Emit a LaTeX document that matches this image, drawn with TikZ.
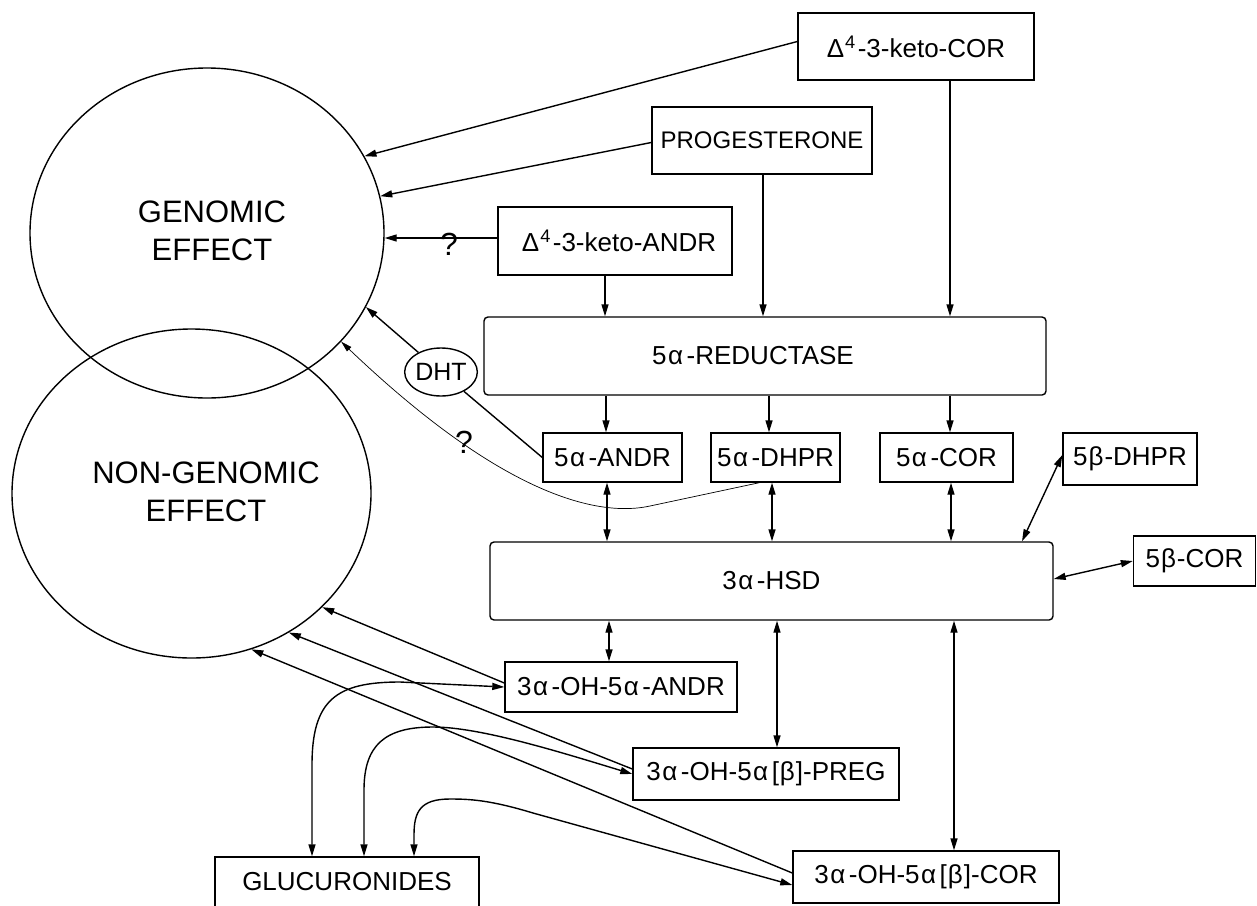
\documentclass[tikz,border=0pt]{standalone}
\usepackage{fontspec}
\setmainfont{Liberation Sans}
\usetikzlibrary{shapes.geometric,arrows.meta,calc}
\newcommand{\myal}{\kern1.5pt α\kern3.5pt}
\newcommand{\mybe}{\kern1pt β\kern1pt}
\newcommand{\myde}{Δ\kern1pt\textsuperscript{4}\kern2pt}
\begin{document}
\begin{tikzpicture}[x=1pt,y=-1pt,
  ln/.style={line width=1.4pt},
  arr/.style={ln,-{Triangle[length=12pt,width=7pt]}},
  darr/.style={ln,{Triangle[length=12pt,width=7pt]}-{Triangle[length=12pt,width=7pt]}},
  thinarr/.style={line width=0.7pt,-{Triangle[length=11pt,width=6pt]}},
  box/.style={draw,ln,inner sep=0pt,font=\fontsize{26}{30}\selectfont},
  rbox/.style={box,rounded corners=4pt},
  oval/.style={draw,ln,ellipse,inner sep=0pt},
  big/.style={font=\fontsize{31}{38}\selectfont,align=center,inner sep=0pt},
  qm/.style={font=\fontsize{32}{36}\selectfont,inner sep=0pt}
]
\useasboundingbox (0,0) rectangle (1257,905);

% effect ellipses
\node[oval,minimum width=354pt,minimum height=330pt] (gen) at (207,233) {};
\node[big] (genT) at (212,231) {GENOMIC\\EFFECT};
\node[oval,minimum width=359pt,minimum height=329pt] (ngen) at (191.5,493.5) {};
\node[big] (ngenT) at (206,492) {NON-GENOMIC\\EFFECT};

% boxes
\node[box,minimum width=236pt,minimum height=67pt] (kcor) at (916,46.5) {\myde-3-keto-COR};
\node[box,minimum width=220pt,minimum height=67pt,font=\fontsize{24}{28}\selectfont] (prog) at (762,140.5) {PROGESTERONE};
\node[box,minimum width=234pt,minimum height=68pt] (kandr) at (615,241) {\hspace*{8pt}\myde-3-keto-ANDR};
\node[rbox,minimum width=562pt,minimum height=78pt] (red) at (765,356) {5\myal-REDUCTASE\hspace*{24pt}};
\node[box,minimum width=139pt,minimum height=49pt] (andr5) at (612.5,457.5) {5\myal-ANDR};
\node[box,minimum width=129pt,minimum height=49pt] (dhpr5) at (775.5,457.5) {5\myal-DHPR};
\node[box,minimum width=133pt,minimum height=49pt] (cor5) at (946.5,457.5) {5\myal-COR};
\node[box,minimum width=134pt,minimum height=52pt] (dhpr5b) at (1130,459) {5\mybe-DHPR};
\node[rbox,minimum width=563pt,minimum height=78pt] (hsd) at (771.5,581) {3\myal-HSD};
\node[box,minimum width=122pt,minimum height=50pt] (cor5b) at (1194.5,561) {5\mybe-COR};
\node[box,minimum width=232pt,minimum height=50pt] (oandr) at (621,687) {3\myal-OH-5\myal-ANDR};
\node[box,minimum width=266pt,minimum height=52pt] (opreg) at (766,774) {3\myal-OH-5\myal[\mybe]-PREG};
\node[box,minimum width=266pt,minimum height=52pt] (ocor) at (926,877) {3\myal-OH-5\myal[\mybe]-COR};
\node[box,minimum width=264pt,minimum height=50pt] (gluc) at (347,882) {GLUCURONIDES};
\node[oval,minimum width=72pt,minimum height=48pt,font=\fontsize{25}{30}\selectfont] (dht) at (441,372) {DHT};
\node[qm] (q1) at (449,244) {?};
\node[qm] (q2) at (464,442) {?};

% helper x positions
\coordinate (x605) at (605,0);
\coordinate (x763) at (763,0);
\coordinate (x950) at (950,0);
\coordinate (x606) at (606,0);
\coordinate (x769) at (769,0);
\coordinate (x607) at (607,0);
\coordinate (x772) at (772,0);
\coordinate (x951) at (951,0);
\coordinate (x609) at (609,0);
\coordinate (x777) at (777,0);
\coordinate (x954) at (954,0);
\coordinate (x1022) at (1022,0);
\coordinate (x312) at (312,0);
\coordinate (x364) at (364,0);
\coordinate (x414) at (414,0);

% into genomic effect
\draw[arr] ([yshift=5pt]kcor.west) -- (gen.26);
\draw[arr] ([yshift=-2pt]prog.west) -- (gen.12);
\coordinate (k3) at ([yshift=3pt]kandr.west);
\draw[arr] (k3) -- (k3 -| gen.east);
\draw[ln] (andr5.west) -- (dht);
\draw[arr] (dht) -- (gen.-25);
\coordinate (c1) at ([xshift=49pt]dhpr5.south west);
\draw[thinarr] (c1) -- (650,506) .. controls (600,517) and (505,498) .. (gen.-39);

% 5alpha-reductase
\draw[arr] (kandr.south -| x605) -- (red.north -| x605);
\draw[arr] (prog.south -| x763) -- (red.north -| x763);
\draw[arr] (kcor.south -| x950) -- (red.north -| x950);
\draw[arr] (red.south -| x606) -- (andr5.north -| x606);
\draw[arr] (red.south -| x769) -- (dhpr5.north -| x769);
\draw[arr] (red.south -| x950) -- (cor5.north -| x950);

% 3alpha-HSD
\draw[darr] (andr5.south -| x607) -- (hsd.north -| x607);
\draw[darr] (dhpr5.south -| x772) -- (hsd.north -| x772);
\draw[darr] (cor5.south -| x951) -- (hsd.north -| x951);
\draw[darr] ([yshift=4pt]dhpr5b.west) -- (hsd.north -| x1022);
\draw[darr] ([yshift=2pt]hsd.east) -- (cor5b.west);
\draw[darr] (hsd.south -| x609) -- (oandr.north -| x609);
\draw[darr] (hsd.south -| x777) -- (opreg.north -| x777);
\draw[darr] (hsd.south -| x954) -- (ocor.north -| x954);

% into non-genomic effect
\draw[arr] ([yshift=4pt]oandr.west) -- (ngen.-41);
\draw[arr] ([yshift=5pt]opreg.west) -- (ngen.-55);
\draw[arr] ([yshift=4pt]ocor.west) -- (ngen.-69);

% glucuronides
\draw[darr] (oandr.west) -- (400,682) .. controls (336,682) and (312,700) .. (312,765) -- (gluc.north -| x312);
\draw[darr] (opreg.west) .. controls (560,752) and (480,727) .. (433,727) .. controls (385,727) and (364,745) .. (364,790) -- (gluc.north -| x364);
\draw[darr] ([yshift=-8pt]ocor.west) -- (533,813) .. controls (490,800) and (470,799) .. (450,799) .. controls (420,799) and (414,812) .. (414,835) -- (gluc.north -| x414);
\end{tikzpicture}
\end{document}
